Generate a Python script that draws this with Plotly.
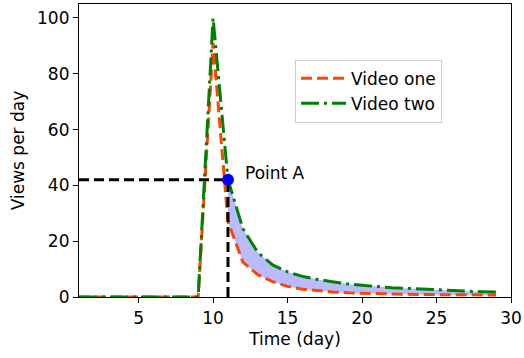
import plotly.graph_objects as go

days = list(range(1, 30))
video_one = [0, 0, 0, 0, 0, 0, 0, 0, 0, 91, 27, 12.5, 8, 5.5, 3.8, 2.8, 2.2, 1.8, 1.5,
             1.3, 1.15, 1.05, 0.95, 0.9, 0.85, 0.8, 0.75, 0.7, 0.7]
video_two = [0, 0, 0, 0, 0, 0, 0, 0, 0, 100, 42, 24.5, 16, 11.5, 9, 7.4, 6.3, 5.5, 4.7,
             4.2, 3.7, 3.3, 3.1, 2.8, 2.5, 2.3, 2.1, 1.9, 1.8]
point_a_day = 11
point_a_value = 42
x_ticks = [5, 10, 15, 20, 25, 30]
y_ticks = [0, 20, 40, 60, 80, 100]

start = days.index(point_a_day)
font = "DejaVu Sans, sans-serif"

fig = go.Figure()

# shaded area between the two curves after point A
fig.add_trace(go.Scatter(x=days[start:], y=video_one[start:], mode="lines",
                         line=dict(width=0, color="rgba(0,0,0,0)"),
                         showlegend=False, hoverinfo="skip"))
fig.add_trace(go.Scatter(x=days[start:], y=video_two[start:], mode="lines",
                         line=dict(width=0, color="rgba(0,0,0,0)"),
                         fill="tonexty", fillcolor="rgba(0,0,255,0.27)",
                         showlegend=False, hoverinfo="skip"))

fig.add_trace(go.Scatter(x=days, y=video_one, mode="lines", name="Video one",
                         line=dict(color="#FF4500", width=3, dash="11px,5px")))
fig.add_trace(go.Scatter(x=days, y=video_two, mode="lines", name="Video two",
                         line=dict(color="#008000", width=3, dash="18px,5px,3px,5px")))

# guide lines to point A
fig.add_trace(go.Scatter(x=[1, point_a_day], y=[point_a_value, point_a_value], mode="lines",
                         line=dict(color="black", width=3, dash="10px,5px"),
                         showlegend=False, hoverinfo="skip"))
fig.add_trace(go.Scatter(x=[point_a_day, point_a_day], y=[0, point_a_value], mode="lines",
                         line=dict(color="black", width=3, dash="10px,5px"),
                         showlegend=False, hoverinfo="skip"))
fig.add_trace(go.Scatter(x=[point_a_day], y=[point_a_value], mode="markers",
                         marker=dict(color="blue", size=12),
                         showlegend=False, hoverinfo="skip"))

fig.add_annotation(x=point_a_day, y=point_a_value, text="Point A", showarrow=False,
                   xanchor="left", yanchor="middle", xshift=15, yshift=7,
                   font=dict(family=font, size=17, color="black"))

axis_common = dict(showline=True, linecolor="black", linewidth=1.2, mirror=True,
                   ticks="outside", ticklen=5, tickwidth=1.2, tickcolor="black",
                   showgrid=False, zeroline=False, automargin=False,
                   tickfont=dict(family=font, size=17, color="black"))

fig.update_xaxes(range=[1, 30], tickvals=x_ticks,
                 title=dict(text="Time (day)", font=dict(family=font, size=17, color="black"),
                            standoff=6),
                 **axis_common)
fig.update_yaxes(range=[0, 105], tickvals=y_ticks,
                 title=dict(text="Views per day", font=dict(family=font, size=17, color="black"),
                            standoff=8),
                 **axis_common)

fig.update_layout(
    width=524, height=358,
    margin=dict(l=79, r=13, t=4, b=61, autoexpand=False),
    plot_bgcolor="white", paper_bgcolor="white",
    font=dict(family=font, size=17, color="black"),
    legend=dict(x=0.5, y=0.81, xanchor="left", yanchor="top", traceorder="normal",
                bgcolor="white", bordercolor="#cccccc", borderwidth=1,
                itemwidth=45, entrywidth=162,
                font=dict(family=font, size=17), tracegroupgap=0),
)

fig.write_html("out.html", config={"displayModeBar": False},
               post_script="document.body.style.margin='0';document.body.style.padding='0';")
